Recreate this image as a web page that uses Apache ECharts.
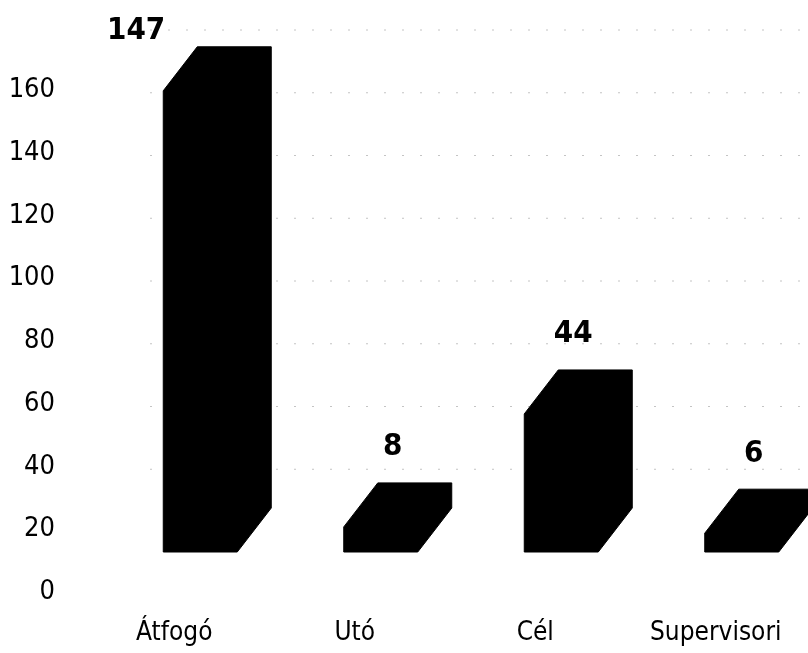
<!DOCTYPE html>
<html>
<head>
<meta charset="utf-8">
<script src="https://cdn.jsdelivr.net/npm/echarts@6/dist/echarts.min.js"></script>
<style>
html,body{margin:0;padding:0;background:#fff;}
#chart{width:808px;height:653px;}
</style>
</head>
<body>
<div id="chart"></div>
<script>
const categories = ['Átfogó', 'Utó', 'Cél', 'Supervisori'];
const values = [147, 8, 44, 6];
const yTicks = [0, 20, 40, 60, 80, 100, 120, 140, 160];

const FONT = "'Liberation Sans Narrow', 'DejaVu Sans Condensed', 'Arial Narrow', sans-serif";
// pseudo-3D geometry (pixels)
const FRONT_DX = 26, FRONT_DY = -40, HALF_W = 37, DEPTH_X = 34, DEPTH_Y = -44;

const chart = echarts.init(document.getElementById('chart'), null, {renderer: 'canvas'});

const option = {
  animation: false,
  backgroundColor: '#fff',
  grid: {left: 84, top: 90, bottom: 61, width: 722, containLabel: false},
  xAxis: {
    type: 'category',
    data: categories,
    axisLine: {show: false},
    axisTick: {show: false},
    axisLabel: {fontSize: 26, color: '#000', fontFamily: FONT, margin: 28, interval: 0},
    splitLine: {show: false}
  },
  yAxis: {
    type: 'value',
    min: yTicks[0],
    max: yTicks[yTicks.length - 1],
    interval: yTicks[1] - yTicks[0],
    axisLine: {show: false},
    axisTick: {show: false},
    axisLabel: {fontSize: 27, color: '#000', fontFamily: FONT, margin: 29},
    splitLine: {show: false}
  },
  series: [
    {
      // faint dotted back-wall gridlines
      type: 'custom',
      z: 1,
      silent: true,
      clip: false,
      data: yTicks.filter(v => v > 0).map(v => [0, v]),
      encode: {x: 0, y: 1},
      renderItem: function (params, api) {
        const y = api.coord([0, api.value(1)])[1] - 60;
        return {
          type: 'line',
          shape: {x1: 150, y1: y, x2: 808, y2: y},
          style: {stroke: '#c4c4c4', lineWidth: 1, lineDash: [2, 16]}
        };
      }
    },
    {
      type: 'custom',
      z: 5,
      clip: false,
      data: values.map((v, i) => [i, v]),
      encode: {x: 0, y: 1},
      renderItem: function (params, api) {
        const idx = api.value(0);
        const val = api.value(1);
        const base = api.coord([idx, 0]);
        const top = api.coord([idx, val]);
        const cx = base[0] + FRONT_DX;
        const L = cx - HALF_W, R = cx + HALF_W;
        const fb = base[1] + FRONT_DY;   // front bottom
        const ft = top[1] + FRONT_DY;    // front top
        const bt = ft + DEPTH_Y;         // back top
        const pts = [
          [L, ft], [L + DEPTH_X, bt], [R + DEPTH_X, bt],
          [R + DEPTH_X, fb + DEPTH_Y], [R, fb], [L, fb]
        ];
        const labelFont = 'bold 31px ' + FONT;
        let label;
        if (bt - 22 - 28 < 0) {
          label = {type: 'text', style: {text: String(val), x: L + 2, y: bt,
            align: 'right', verticalAlign: 'bottom', font: labelFont, fill: '#000'}};
        } else {
          label = {type: 'text', style: {text: String(val), x: cx + 12, y: bt - 20,
            align: 'center', verticalAlign: 'bottom', font: labelFont, fill: '#000'}};
        }
        return {
          type: 'group',
          children: [
            {type: 'polygon', shape: {points: pts}, style: {fill: '#000', stroke: '#000', lineWidth: 1}},
            label
          ]
        };
      }
    }
  ]
};
chart.setOption(option);
</script>
</body>
</html>
